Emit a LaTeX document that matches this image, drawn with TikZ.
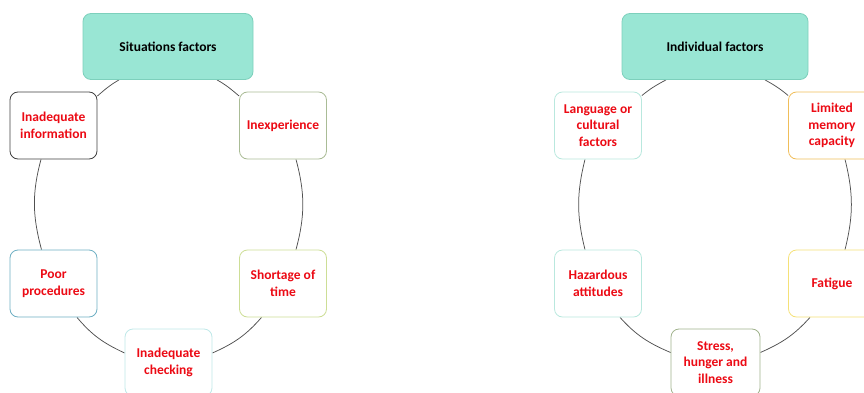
\documentclass[tikz,border=0pt]{standalone}
\usepackage{fontspec}
\setmainfont{Carlito}
\usepackage{xcolor}
\usepackage{tikz}
\usetikzlibrary{backgrounds}

\definecolor{headfill}{RGB}{153,230,212}
\definecolor{headline}{RGB}{125,208,188}
\definecolor{factred}{RGB}{236,10,20}
\definecolor{ringgray}{RGB}{80,80,80}
\definecolor{bdark}{RGB}{64,64,64}
\definecolor{bsage}{RGB}{170,188,150}
\definecolor{bblue}{RGB}{110,175,195}
\definecolor{blime}{RGB}{205,222,150}
\definecolor{bcyan}{RGB}{190,232,232}
\definecolor{bmint}{RGB}{185,232,222}
\definecolor{bgold}{RGB}{240,190,90}
\definecolor{byellow}{RGB}{245,225,120}
\definecolor{bolive}{RGB}{160,178,140}

\begin{document}
\begin{tikzpicture}[x=1pt,y=1pt,
  head/.style={rectangle,rounded corners=8pt,draw=headline,fill=headfill,line width=0.8pt,minimum height=66pt,font=\bfseries\fontsize{13.5}{16}\selectfont},
  factor/.style={rectangle,rounded corners=8pt,fill=white,line width=0.8pt,minimum width=87pt,minimum height=67pt,inner sep=2pt,align=center,text=factred,font=\bfseries\fontsize{13.5}{16.5}\selectfont},
  ring/.style={draw=ringgray,line width=0.75pt}]
  \useasboundingbox (0,0) rectangle (864,392);
  \clip (0,0) rectangle (864,392);
  % situation cycle
  \node[head,minimum width=170pt] (s0) at (168,345.5) {Situations factors};
  \node[factor,draw=bdark] (s1) at (53.5,266.5) {Inadequate\\information};
  \node[factor,draw=bsage] (s2) at (283,266.5) {Inexperience};
  \node[factor,draw=bblue] (s3) at (53.5,108.5) {Poor\\procedures};
  \node[factor,draw=blime] (s4) at (283,108.5) {Shortage of\\time};
  \node[factor,draw=bcyan] (s5) at (168.5,29.5) {Inadequate\\checking};
  % individual cycle
  \node[head,minimum width=186pt] (i0) at (715,345.5) {Individual factors};
  \node[factor,draw=bmint] (i1) at (598,266.5) {Language or\\cultural\\factors};
  \node[factor,draw=bgold] (i2) at (832,266.5) {Limited\\memory\\capacity};
  \node[factor,draw=bmint] (i3) at (598,108.5) {Hazardous\\attitudes};
  \node[factor,draw=byellow] (i4) at (832,108.5) {Fatigue};
  \node[factor,draw=bolive,minimum width=89pt] (i5) at (715.5,29.5) {Stress,\\hunger and\\illness};
  \begin{scope}[on background layer]
    \draw[ring] ([xshift=-49pt]s0.south) to[out=210,in=41] ([yshift=29.5pt]s1.east);
    \draw[ring] ([xshift=49pt]s0.south) to[out=331,in=140] ([yshift=29.5pt]s2.west);
    \draw[ring] ([xshift=-12.5pt]s1.south) to[out=255,in=105] ([xshift=-12pt]s3.north);
    \draw[ring] ([xshift=13pt]s2.south) to[out=285,in=75] ([xshift=13pt]s4.north);
    \draw[ring] ([xshift=23.5pt]s3.south) to[out=-50,in=155] ([yshift=9.5pt]s5.west);
    \draw[ring] ([xshift=-21.5pt]s4.south) to[out=229,in=24] ([yshift=9.5pt]s5.east);
    \draw[ring] ([xshift=-49pt]i0.south) to[out=208,in=39] ([yshift=30pt]i1.east);
    \draw[ring] ([xshift=50pt]i0.south) to[out=331,in=140] ([yshift=30pt]i2.west);
    \draw[ring] ([xshift=-13pt]i1.south) to[out=256,in=104] ([xshift=-13pt]i3.north);
    \draw[ring] ([xshift=13pt]i2.south) to[out=284,in=76] ([xshift=13pt]i4.north);
    \draw[ring] ([xshift=22pt]i3.south) to[out=-48,in=157] ([yshift=10pt]i5.west);
    \draw[ring] ([xshift=-22pt]i4.south) to[out=228,in=24] ([yshift=10pt]i5.east);
  \end{scope}
\end{tikzpicture}
\end{document}
